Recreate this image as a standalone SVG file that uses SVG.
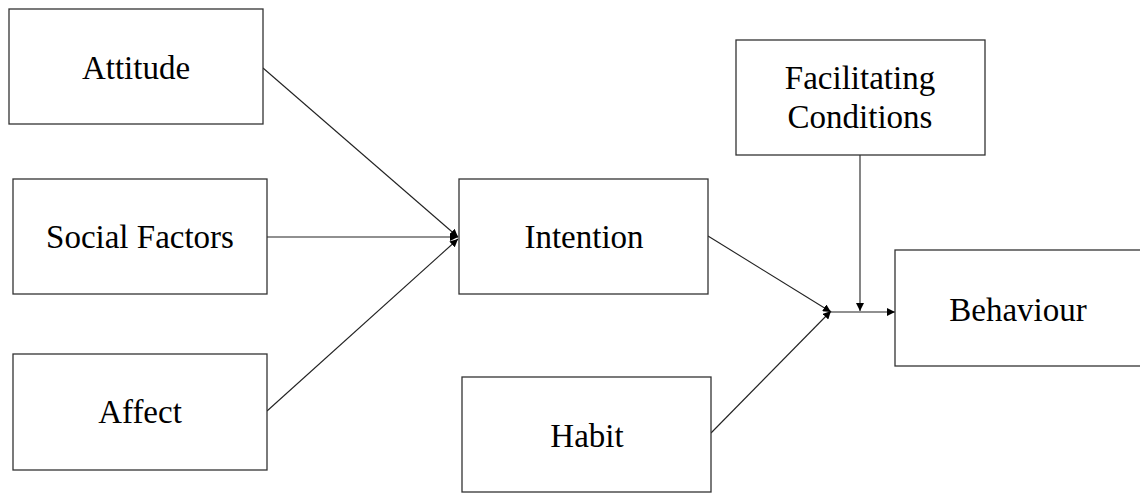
<svg xmlns="http://www.w3.org/2000/svg" width="1140" height="493" viewBox="0 0 1140 493">
<style>
.box{fill:#fff;stroke:#333;stroke-width:1.3}
.lbl{font-family:"Liberation Serif","Times New Roman",serif;font-size:33px;fill:#000;text-anchor:middle}
.ln{stroke:#222;stroke-width:1.1;fill:none}
</style>
<defs>
<marker id="ah" viewBox="0 0 10 10" refX="10" refY="5" markerWidth="8" markerHeight="8" markerUnits="userSpaceOnUse" orient="auto">
<path d="M0,0 L10,5 L0,10 Z" fill="#000"/>
</marker>
</defs>
<rect width="1140" height="493" fill="#fff"/>
<g id="connectors">
<line class="ln" x1="263" y1="68" x2="458" y2="237" marker-end="url(#ah)"/>
<line class="ln" x1="267" y1="237" x2="458" y2="237" marker-end="url(#ah)"/>
<line class="ln" x1="267" y1="411" x2="458" y2="239" marker-end="url(#ah)"/>
<line class="ln" x1="708" y1="236" x2="831" y2="312" marker-end="url(#ah)"/>
<line class="ln" x1="711" y1="433" x2="831" y2="311" marker-end="url(#ah)"/>
<line class="ln" x1="830" y1="312" x2="895" y2="312" marker-end="url(#ah)"/>
<line class="ln" x1="860" y1="155" x2="860" y2="311" marker-end="url(#ah)"/>
</g>
<g id="attitude"><rect class="box" x="9" y="9" width="254" height="115"/><text class="lbl" x="136" y="79">Attitude</text></g>
<g id="social-factors"><rect class="box" x="13" y="179" width="254" height="115"/><text class="lbl" x="140" y="248">Social Factors</text></g>
<g id="affect"><rect class="box" x="13" y="354" width="254" height="116"/><text class="lbl" x="140" y="423">Affect</text></g>
<g id="intention"><rect class="box" x="459" y="179" width="249" height="115"/><text class="lbl" x="584" y="248">Intention</text></g>
<g id="habit"><rect class="box" x="462" y="377" width="249" height="115"/><text class="lbl" x="587" y="447">Habit</text></g>
<g id="facilitating-conditions"><rect class="box" x="736" y="40" width="249" height="115"/><text class="lbl" x="860" y="89">Facilitating</text><text class="lbl" x="860" y="128">Conditions</text></g>
<g id="behaviour"><rect class="box" x="895" y="250" width="250" height="116"/><text class="lbl" x="1018" y="321">Behaviour</text></g>
</svg>
